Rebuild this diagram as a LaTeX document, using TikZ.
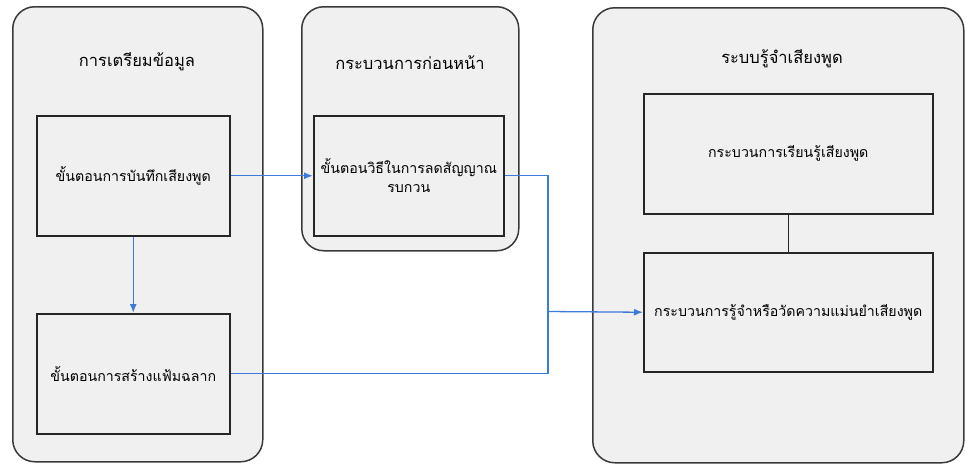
\documentclass[tikz,border=0pt]{standalone}
\usepackage{fontspec}
\setmainfont{Loma}[Script=Thai]
\usetikzlibrary{positioning,arrows.meta}
\definecolor{panelgray}{HTML}{F0F0F0}
\definecolor{edgegray}{HTML}{3A3A3A}
\definecolor{flowblue}{HTML}{3D7BDB}

\begin{document}
\begin{tikzpicture}[x=1pt,y=-1pt,
  group/.style={draw=edgegray,line width=1.5pt,rounded corners=22pt,fill=panelgray,
    anchor=north west,inner sep=0pt},
  stepbox/.style={draw=black!85,line width=1.5pt,fill=panelgray,anchor=north west,
    inner sep=0pt,align=center,font=\fontsize{14.2}{19}\selectfont},
  grouptitle/.style={font=\fontsize{16.5}{19}\selectfont},
  flowline/.style={draw=flowblue,line width=1.3pt},
  flow/.style={flowline,-{Latex[length=9pt,width=7pt]}}]
\useasboundingbox (0,0) rectangle (966,464);
% panels
\node[group,minimum width=250pt,minimum height=455pt] (prep) at (12,6) {};
\node[group,minimum width=217pt,minimum height=244pt] (pre) at (301,6) {};
\node[group,minimum width=371pt,minimum height=455pt] (asr) at (592,7) {};
\node[grouptitle] (prepT) at (137,62) {การเตรียมข้อมูล};
\node[grouptitle] (preT) at (410,63) {กระบวนการก่อนหน้า};
\node[grouptitle] (asrT) at (782,59) {ระบบรู้จำเสียงพูด};
% steps
\node[stepbox,minimum width=193pt,minimum height=120pt] (record) at (36,115)
  {ขั้นตอนการบันทึกเสียงพูด};
\node[stepbox,minimum width=193pt,minimum height=120pt] (label) at (36,313)
  {ขั้นตอนการสร้างแฟ้มฉลาก};
\node[stepbox,minimum width=190pt,minimum height=120pt] (denoise) at (313,115)
  {ขั้นตอนวิธีในการลดสัญญาณ\\รบกวน};
\node[stepbox,minimum width=289pt,minimum height=120pt] (learn) at (643,93)
  {กระบวนการเรียนรู้เสียงพูด};
\node[stepbox,minimum width=289pt,minimum height=119pt] (recog) at (643,252)
  {กระบวนการรู้จำหรือวัดความแม่นยำเสียงพูด};
% connectors
\coordinate (join) at (548,311.5);
\draw[flow] (record) -- (denoise);
\draw[flow] (record) -- (label);
\draw[flowline] (denoise.east) -| (join);
\draw[flowline] (label.east) -| (join);
\draw[flow] (join) -- (recog.west);
\draw[line width=1.5pt,black!85] (learn) -- (recog);
\end{tikzpicture}
\end{document}
